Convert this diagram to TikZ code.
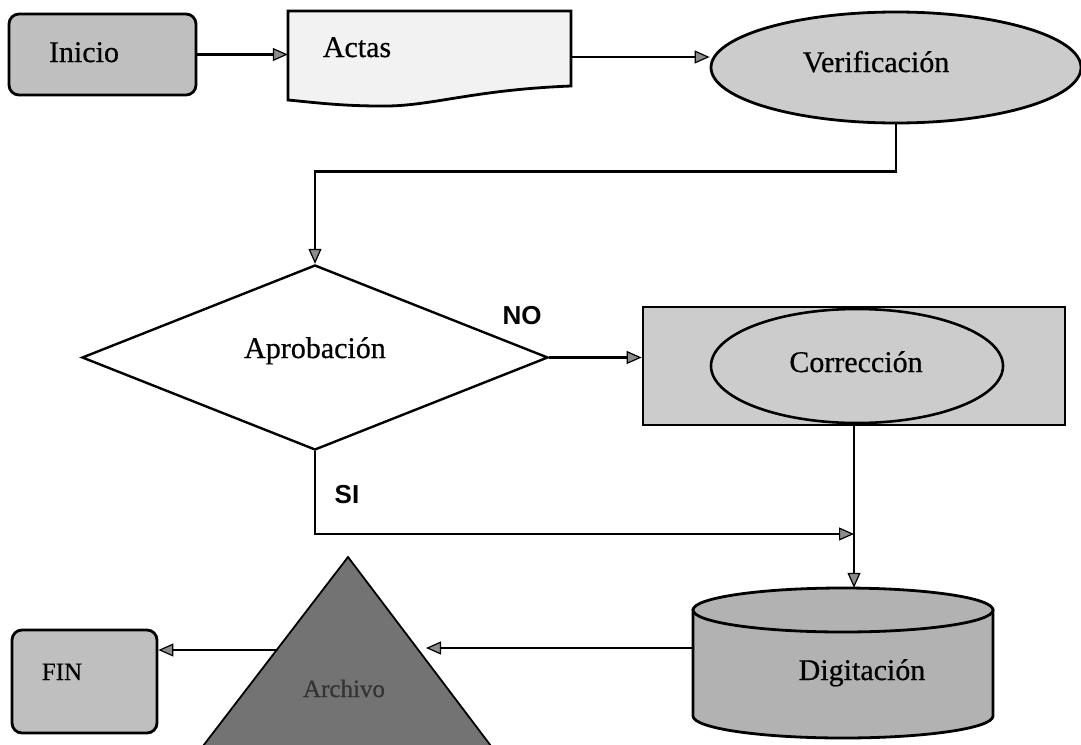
\documentclass[tikz,border=0pt]{standalone}
\usepackage{fontspec}
\setmainfont{Liberation Serif}
\newfontfamily\labelfont{Liberation Sans}
\usetikzlibrary{arrows.meta,shapes.geometric}

\begin{document}
\begin{tikzpicture}[x=1pt,y=-1pt,
  conn/.style={line width=2.2pt,-{Triangle[length=15pt,width=13pt,line width=1.2pt,fill=black!45]}},
  outline/.style={draw,line width=2.8pt},
  txt/.style={anchor=base,inner sep=0pt,font=\fontsize{30}{36}\selectfont\addfontfeature{FakeBold=0.6}},
  smalltxt/.style={anchor=base,inner sep=0pt,font=\fontsize{25}{30}\selectfont\addfontfeature{FakeBold=0.6}},
  lbl/.style={anchor=base,inner sep=0pt,font=\labelfont\bfseries\fontsize{26}{30}\selectfont},
  term/.style={outline,rounded corners=10pt,inner sep=0pt},
]
\useasboundingbox (0,0) rectangle (1081,744);

% Start terminal
\node[term, fill=black!25, minimum width=187pt, minimum height=81pt] (ini) at (102.5,54.5) {};
\node[txt] (initxt) at (84,62) {Inicio};

% Document shape
\node[inner sep=0pt, minimum width=283pt, minimum height=92pt] (actas) at (429.5,57) {};
\draw[line width=2.8pt, fill=black!5] (288,11) -- (571,11) -- (571,86)
  .. controls (470,90) and (430,107) .. (380,106)
  .. controls (340,106) and (310,102) .. (288,100) -- cycle;
\node[txt] (actastxt) at (357,57) {Actas};

% Check step
\node[ellipse, outline, fill=black!20, minimum width=370pt, minimum height=111pt, inner sep=0pt] (verif) at (896,67.5) {};
\node[txt] (veriftxt) at (876,72) {Verificación};

% Decision
\node[diamond, draw, line width=2.4pt, minimum width=466pt, minimum height=185pt, inner sep=0pt] (apro) at (315,357.5) {};
\node[txt] (aprotxt) at (315,358) {Aprobación};

% Correction: ellipse inside a box
\node[outline, fill=black!20, minimum width=422pt, minimum height=118pt, inner sep=0pt] (corr) at (854,366) {};
\node[ellipse, draw, line width=2.6pt, fill=black!20, minimum width=292pt, minimum height=114pt, inner sep=0pt] (correll) at (857,366) {};
\node[txt] (corrtxt) at (856,372) {Corrección};

% Data entry: cylinder
\node[inner sep=0pt, minimum width=300pt, minimum height=150pt] (digi) at (843,663) {};
\draw[line width=2.8pt, fill=black!30] (693,610) -- (693,716)
  arc[start angle=180, end angle=360, x radius=150pt, y radius=22pt] -- (993,610) -- cycle;
\draw[line width=2.8pt, fill=black!30] (843,610) ellipse[x radius=150pt, y radius=22pt];
\node[txt] (digitxt) at (862,680) {Digitación};

% Archive: triangle
\coordinate (apex) at (348,557);
\draw[line width=1.8pt, fill=black!55] (apex) -- (491,746) -- (203,746) -- cycle;
\node[smalltxt, text=black!80] (archtxt) at (344,697) {Archivo};

% End terminal
\node[term, fill=black!25, minimum width=145pt, minimum height=103pt] (fin) at (84.5,681.5) {};
\node[smalltxt] (fintxt) at (62,680) {FIN};

% Branch labels
\node[lbl] (nolbl) at (522,324) {NO};
\node[lbl] (silbl) at (347,503) {SI};

% Connectors
\draw[conn] (ini.east) -- (ini.east -| actas.west);
\draw[conn] (actas.east) -- (verif.west |- actas.east);
\draw[conn] (verif.south) -- ++(0,47) -| (apro.north);
\draw[conn] (apro.east) -- (apro.east -| corr.west);
\coordinate (join) at (corr.south |- 0,534);
\draw[conn] (apro.south) |- (join);
\draw[conn] (corr.south) -- (corr.south |- digi.north);
\coordinate (archR) at (426,648);
\draw[conn] (digi.west |- archR) -- (archR);
\coordinate (archL) at (278,650);
\draw[conn] (archL) -- (archL -| fin.east);
\end{tikzpicture}
\end{document}
